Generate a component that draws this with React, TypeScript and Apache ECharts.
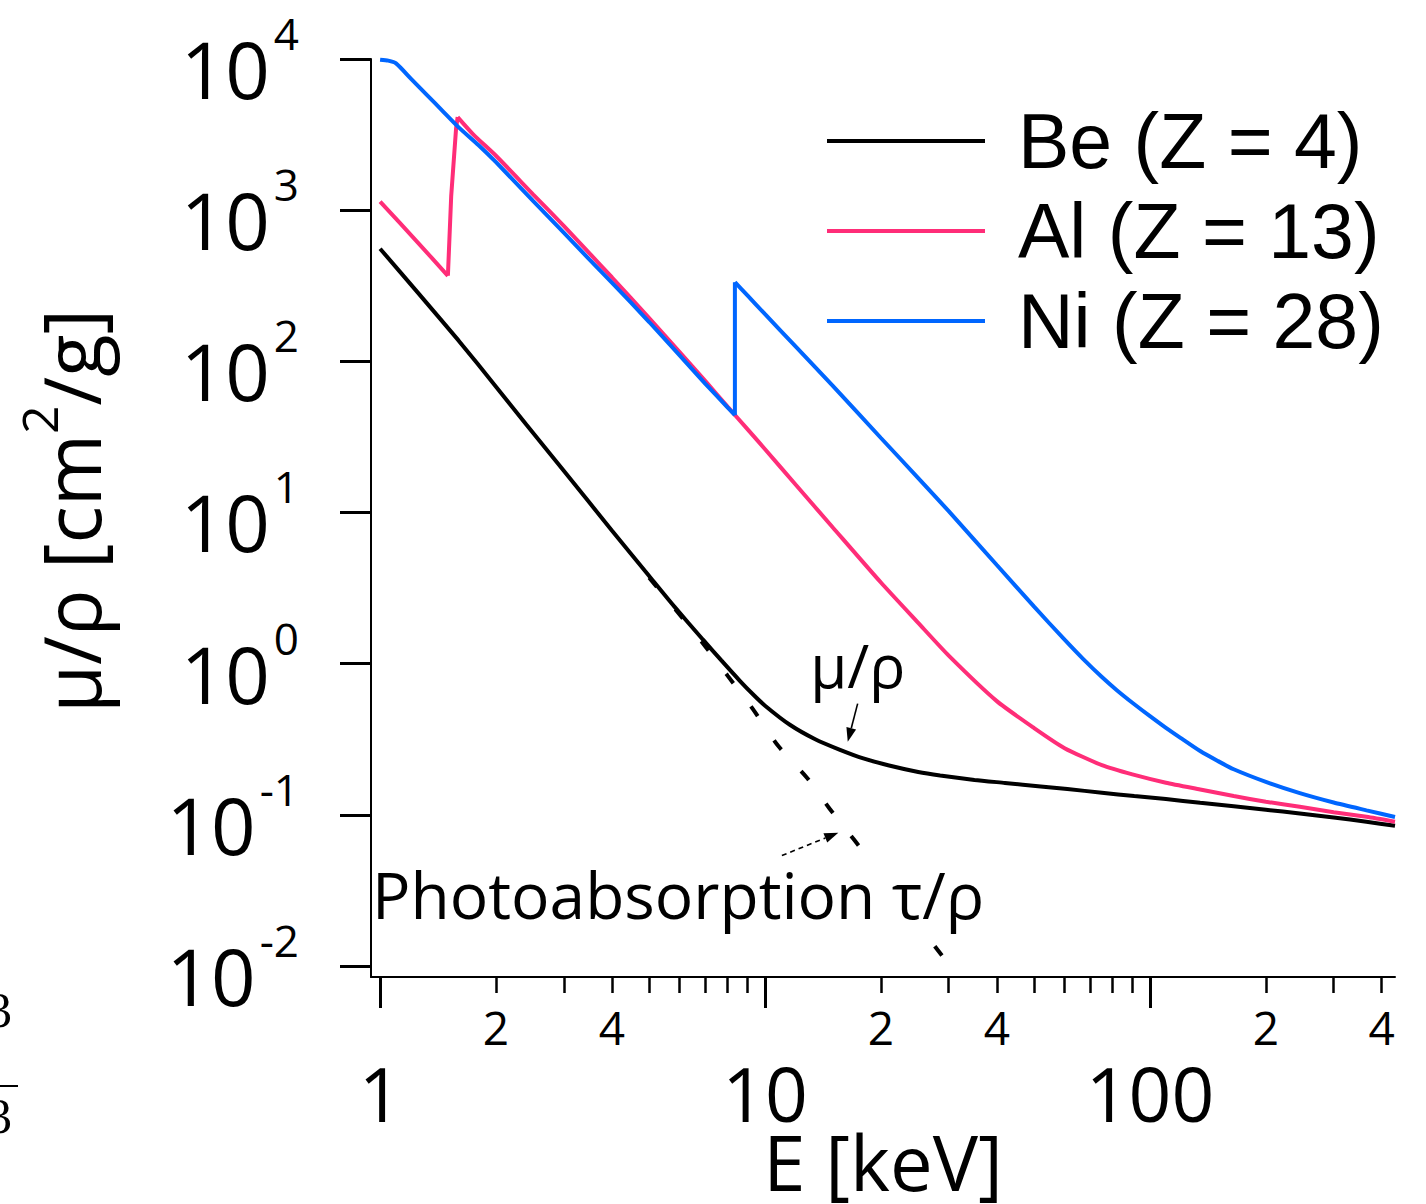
import React, { useEffect, useRef } from 'react';
import * as echarts from 'echarts';

// ---- data (E in keV, mu/rho in cm^2/g) ----
const beE = [1, 1.25, 1.6, 2, 2.4, 3, 4, 5, 5.8, 6.9, 7.7, 8.6, 9.3, 10, 11.6, 13.5, 15.6, 18, 21, 25, 28.5, 35, 42, 52, 61, 75, 91, 110, 135, 165, 200, 245, 300, 365, 433];
const beMu = [556, 287, 137, 68, 38, 18.9, 7.6, 3.8, 2.4, 1.44, 1.05, 0.77, 0.627, 0.527, 0.394, 0.316, 0.27, 0.236, 0.212, 0.192, 0.182, 0.17, 0.1625, 0.154, 0.148, 0.14, 0.133, 0.127, 0.12, 0.114, 0.108, 0.102, 0.096, 0.09, 0.0845];

const beTauE = [5.0, 5.8, 6.9, 8.0, 9.3, 10.8, 12.9, 14.7, 17.1, 17.6, 22, 27.6, 30.8];
const beTau = [3.7, 2.35, 1.36, 0.83, 0.5, 0.287, 0.174, 0.11, 0.0675, 0.0615, null, 0.0135, 0.0094];

const alE = [1, 1.25, 1.5, 1.53, 1.575, 1.59, 1.75, 2, 2.5, 3, 3.5, 4, 5, 6, 7, 8, 9, 10, 12, 15, 20, 25, 30, 40, 50, 60, 75, 90, 110, 135, 165, 200, 245, 300, 365, 433];
const alMu = [1140, 615, 368, 1240, 3450, 4130, 3150, 2290, 1268, 788, 518, 360, 193, 115, 74, 50, 35.6, 26.2, 15.3, 7.96, 3.44, 1.86, 1.13, 0.565, 0.375, 0.276, 0.213, 0.185, 0.163, 0.147, 0.133, 0.122, 0.113, 0.104, 0.097, 0.09];

const niE = [1, 1.05, 1.1, 1.2, 1.33, 1.45, 1.6, 1.8, 2, 2.5, 3, 3.5, 4, 5, 6, 7, 8, 8.35, 8.35, 9, 10, 12, 15, 20, 25, 30, 40, 50, 60, 67, 75, 82, 90, 100, 110, 120, 135, 150, 165, 200, 245, 300, 365, 433];
const niMu = [9900, 9750, 9350, 7455, 5706, 4558, 3530, 2700, 2077, 1149, 709, 471, 332, 182, 109.5, 71, 49.4, 44, 334, 273, 205, 125.5, 68.7, 31.1, 16.9, 10.2, 4.49, 2.38, 1.44, 1.075, 0.815, 0.667, 0.551, 0.449, 0.376, 0.323, 0.264, 0.227, 0.2, 0.165, 0.139, 0.1205, 0.107, 0.0967];

const seriesNames = ['Be (Z = 4)', 'Al (Z = 13)', 'Ni (Z = 28)'];
const seriesColors = ['#000000', '#ff2d78', '#0066ff'];
const tauName = 'Photoabsorption τ/ρ (Be)';

const xMajorTicks = [1, 10, 100];
const xMinorTicks = [2, 3, 4, 5, 6, 7, 8, 9, 20, 30, 40, 50, 60, 70, 80, 90, 200, 300, 400];
const xMinorLabels = [2, 4, 20, 40, 200, 400];
const yTicks = [0.01, 0.1, 1, 10, 100, 1000, 10000];
const xRange = [0.947, 433];
const yRange = [0.00845, 10001];

const xTitle = 'E [keV]';
const muLabel = 'μ/ρ';
const tauLabel = 'Photoabsorption τ/ρ';

// annotation anchors in data coordinates [E, value]
const muLabelAt = [13.1, 0.985];
const muArrow = [[17.4, 0.544], [16.4, 0.304]];
const tauLabelAt = [0.953, 0.0296];
const tauArrow = [[11.06, 0.0537], [15.5, 0.0762]];

const FONT = '"Open Sans", "DejaVu Sans", sans-serif';
const LEGEND_FONT = '"Liberation Sans", Arial, sans-serif';

const zip = (xs: number[], ys: (number | null)[]) => xs.map((x, i) => [x, ys[i] === null ? '-' : ys[i]]);

// split a curve into falling runs (drawn smooth) and rising absorption edges (drawn straight)
function pieces(xs: number[], ys: number[]) {
  const out: { rising: boolean; pts: any[] }[] = [];
  let start = 0;
  let rising = ys[1] > ys[0];
  for (let i = 1; i < xs.length; i++) {
    const r = ys[i] > ys[i - 1];
    if (r !== rising) {
      out.push({ rising, pts: zip(xs.slice(start, i), ys.slice(start, i)) });
      start = i - 1;
      rising = r;
    }
  }
  out.push({ rising, pts: zip(xs.slice(start), ys.slice(start)) });
  return out;
}

export default function App() {
  const ref = useRef<HTMLDivElement>(null);
  useEffect(() => {
    const el = ref.current;
    if (!el) return;
    const chart = echarts.init(el, null, { renderer: 'svg' });
    const curves = [pieces(beE, beMu), pieces(alE, alMu), pieces(niE, niMu)];

    const curveSeries: any[] = [];
    curves.forEach((ps, i) => {
      ps.forEach((p) => {
        curveSeries.push({
          name: seriesNames[i],
          type: 'line',
          data: p.pts,
          symbol: 'none',
          smooth: p.rising ? false : 0.2,
          clip: false,
          silent: true,
          z: 3 + i,
          lineStyle: { color: seriesColors[i], width: 4 },
          itemStyle: { color: seriesColors[i] },
        });
      });
    });

    const option: any = {
      animation: false,
      backgroundColor: '#ffffff',
      grid: { left: 371, right: 31, top: 59, bottom: 227, containLabel: false, outerBoundsMode: 'none' },
      legend: {
        data: seriesNames,
        orient: 'vertical',
        left: 827,
        top: 96,
        padding: 0,
        itemWidth: 158,
        itemHeight: 4,
        itemGap: 0,
        icon: 'rect',
        selectedMode: false,
        textStyle: { fontSize: 77, fontFamily: LEGEND_FONT, color: '#000', lineHeight: 84, padding: [0, 0, 6, 28] },
      },
      xAxis: [
        {
          type: 'log',
          logBase: 10,
          min: xRange[0],
          max: xRange[1],
          position: 'bottom',
          axisLine: { show: true, lineStyle: { color: '#000', width: 2 } },
          axisTick: { show: true, length: 31, customValues: xMajorTicks, lineStyle: { color: '#000', width: 3 } },
          axisLabel: {
            show: true,
            customValues: xMajorTicks,
            margin: 78,
            fontSize: 75,
            fontFamily: FONT,
            color: '#000',
            formatter: (v: number) => String(Math.round(v)),
          },
          splitLine: { show: false },
          minorTick: { show: false },
          name: xTitle,
          nameLocation: 'middle',
          nameGap: 146,
          nameMoveOverlap: false,
          nameTextStyle: { fontSize: 76, fontFamily: FONT, color: '#000' },
        },
        {
          type: 'log',
          logBase: 10,
          min: xRange[0],
          max: xRange[1],
          position: 'bottom',
          offset: 0,
          axisLine: { show: false },
          axisTick: { show: true, length: 16, customValues: xMinorTicks, lineStyle: { color: '#000', width: 2.5 } },
          axisLabel: {
            show: true,
            customValues: xMinorLabels,
            margin: 27,
            fontSize: 46,
            fontFamily: FONT,
            color: '#000',
            formatter: (v: number) => {
              const e = Math.floor(Math.log10(v) + 1e-9);
              return String(Math.round(v / Math.pow(10, e)));
            },
          },
          splitLine: { show: false },
        },
      ],
      yAxis: {
        type: 'log',
        logBase: 10,
        min: yRange[0],
        max: yRange[1],
        axisLine: { show: true, lineStyle: { color: '#000', width: 2 } },
        axisTick: { show: true, length: 31, customValues: yTicks, lineStyle: { color: '#000', width: 3 } },
        axisLabel: {
          show: true,
          customValues: yTicks,
          margin: 72,
          color: '#000',
          formatter: (v: number) => `{b|10}{e|${Math.round(Math.log10(v))}}`,
          rich: {
            b: { fontSize: 78, lineHeight: 78, fontFamily: FONT, color: '#000', padding: [20, 0, 0, 0] },
            e: { fontSize: 44, lineHeight: 44, fontFamily: FONT, color: '#000', padding: [0, 0, 52, 4] },
          },
        },
        splitLine: { show: false },
      },
      series: [
        {
          name: tauName,
          type: 'line',
          data: zip(beTauE, beTau),
          symbol: 'none',
          smooth: 0.2,
          clip: false,
          connectNulls: false,
          silent: true,
          z: 2,
          lineStyle: { color: '#000', width: 4, type: [12, 29] },
          itemStyle: { color: '#000' },
        },
        ...curveSeries,
      ],
    };
    chart.setOption(option);

    const px = (p: number[]) => chart.convertToPixel({ xAxisIndex: 0, yAxisIndex: 0 }, p) as number[];
    const arrow = (from: number[], to: number[], dashed: boolean) => {
      const [x1, y1] = px(from);
      const [x2, y2] = px(to);
      const ang = Math.atan2(y2 - y1, x2 - x1);
      const L = 14;
      const W = 5;
      const bx = x2 - L * Math.cos(ang);
      const by = y2 - L * Math.sin(ang);
      const nx = -Math.sin(ang);
      const ny = Math.cos(ang);
      return [
        { type: 'line', z: 20, shape: { x1, y1, x2: bx, y2: by }, style: { stroke: '#000', lineWidth: 1.6, lineDash: dashed ? [5, 4] : null } },
        { type: 'polygon', z: 20, shape: { points: [[x2, y2], [bx + nx * W, by + ny * W], [bx - nx * W, by - ny * W]] }, style: { fill: '#000' } },
      ];
    };
    const [mx, my] = px(muLabelAt);
    const [tx, ty] = px(tauLabelAt);
    const graphic: any[] = [
      { type: 'text', z: 20, x: mx, y: my, style: { text: muLabel, fontSize: 60, fontFamily: FONT, fill: '#000', align: 'left', verticalAlign: 'middle' } },
      ...arrow(muArrow[0], muArrow[1], false),
      { type: 'text', z: 20, x: tx, y: ty, style: { text: tauLabel, fontSize: 64, fontFamily: FONT, fill: '#000', align: 'left', verticalAlign: 'middle' } },
      ...arrow(tauArrow[0], tauArrow[1], true),
      {
        type: 'text',
        z: 20,
        x: 71,
        y: 511,
        rotation: Math.PI / 2,
        style: {
          text: '{a|μ/ρ [cm}{s|2}{a|/g]}',
          align: 'center',
          verticalAlign: 'middle',
          rich: {
            a: { fontSize: 78, lineHeight: 78, fontFamily: FONT, fill: '#000', padding: [0, 0, 0, 0] },
            s: { fontSize: 50, lineHeight: 50, fontFamily: FONT, fill: '#000', padding: [0, 0, 65, 0] },
          },
        },
      },
      { type: 'text', z: 20, x: -13, y: 1010, style: { text: '3', fontSize: 50, fontFamily: '"Liberation Serif", serif', fill: '#000', align: 'left', verticalAlign: 'middle' } },
      { type: 'line', z: 20, shape: { x1: 0, y1: 1086, x2: 18, y2: 1086 }, style: { stroke: '#000', lineWidth: 2 } },
      { type: 'text', z: 20, x: -13, y: 1116, style: { text: '3', fontSize: 50, fontFamily: '"Liberation Serif", serif', fill: '#000', align: 'left', verticalAlign: 'middle' } },
    ];
    chart.setOption({ graphic });

    return () => chart.dispose();
  }, []);
  return <div ref={ref} style={{ position: 'absolute', left: 0, top: 0, width: 1426, height: 1204, background: '#fff' }} />;
}
